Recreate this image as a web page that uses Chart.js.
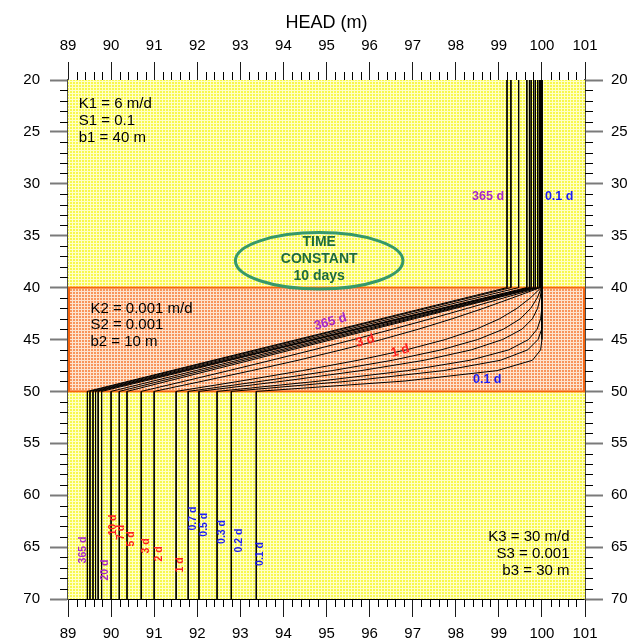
<!DOCTYPE html>
<html>
<head>
<meta charset="utf-8">
<script src="https://cdn.jsdelivr.net/npm/chart.js@4.4.1/dist/chart.umd.min.js"></script>
<style>
  html, body { margin: 0; padding: 0; background: #ffffff; }
  #wrap { position: relative; width: 630px; height: 641px; }
</style>
</head>
<body>
<div id="wrap"><canvas id="headChart" width="630" height="641"></canvas></div>
<script>
// Layer boundaries (depth, m): aquifer 1 / aquitard / aquifer 2
const layerDepths = [20, 40, 50, 70];

// Elapsed times for each head profile
const times = ['0.1 d', '0.2 d', '0.3 d', '0.5 d', '0.7 d', '1 d', '2 d', '3 d', '5 d',
               '7 d', '10 d', '20 d', '30 d', '50 d', '100 d', '200 d', '365 d'];

// Head in the upper aquifer (m)
const upperHeads = [100.0, 100.0, 100.0, 99.99, 99.99, 99.98, 99.96, 99.94, 99.90,
                    99.85, 99.81, 99.75, 99.71, 99.65, 99.46, 99.28, 99.19];

// Head in the lower (pumped) aquifer (m)
const lowerHeads = [93.37, 92.79, 92.46, 92.04, 91.79, 91.51, 91.00, 90.70, 90.37,
                    90.19, 90.00, 89.78, 89.70, 89.64, 89.58, 89.51, 89.45];

// Interior depths of the aquitard where heads are listed
const aquitardDepths = [41, 42, 43, 44, 45, 46, 47, 48, 49];

// Heads inside the aquitard, one row per time (empty row = linear profile)
const aquitardHeads = [
  [100.0, 100.0, 100.0, 100.0, 100.0, 99.97, 99.78, 98.96, 96.82],
  [100.0, 100.0, 100.0, 99.98, 99.91, 99.67, 99.04, 97.71, 95.55],
  [100.0, 99.99, 99.97, 99.89, 99.69, 99.23, 98.33, 96.88, 94.85],
  [99.96, 99.90, 99.78, 99.54, 99.09, 98.36, 97.27, 95.80, 94.02],
  [99.89, 99.74, 99.50, 99.11, 98.51, 97.66, 96.53, 95.13, 93.52],
  [99.73, 99.42, 99.02, 98.48, 97.76, 96.85, 95.73, 94.44, 93.01],
  [99.31, 98.64, 97.92, 97.14, 96.28, 95.34, 94.34, 93.26, 92.14],
  [99.11, 98.27, 97.42, 96.54, 95.63, 94.69, 93.72, 92.73, 91.72],
  [], [], [], [], [], [], [], [], []
];

// Axis ranges and tick labels
const headTicks = [89, 90, 91, 92, 93, 94, 95, 96, 97, 98, 99, 100, 101];
const depthTicks = [20, 25, 30, 35, 40, 45, 50, 55, 60, 65, 70];

const FONT = "'Liberation Sans', Arial, Helvetica, sans-serif";
const PURPLE = '#a626c8';
const RED = '#ff1f1f';
const BLUE = '#1c1cf5';

function timeColor(label) {
  const v = parseFloat(label);
  if (v < 1) return BLUE;
  if (v <= 10) return RED;
  return PURPLE;
}

// Text placed on the plot, anchored in head/depth units
const notes = [
  { lines: ['K1 = 6 m/d', 'S1 = 0.1', 'b1 = 40 m'], x: 89.25, y: 22.31, align: 'left' },
  { lines: ['K2 = 0.001 m/d', 'S2 = 0.001', 'b2 = 10 m'], x: 89.52, y: 42.0, align: 'left' },
  { lines: ['K3 = 30 m/d', 'S3 = 0.001', 'b3 = 30 m'], x: 100.64, y: 64.06, align: 'right' }
];

// Time labels: [text, head, depth, rotation in degrees, font size]
const timeLabels = [
  ['365 d', 98.75, 31.27, 0, 12.5],
  ['0.1 d', 100.40, 31.27, 0, 12.5],
  ['365 d', 95.09, 43.31, -16, 13],
  ['3 d', 95.90, 45.14, -16, 13],
  ['1 d', 96.71, 46.11, -16, 13],
  ['0.1 d', 98.73, 48.90, 0, 12.5],
  ['365 d', 89.35, 65.28, -90, 10.5],
  ['20 d', 89.87, 67.21, -90, 10.5],
  ['10 d', 90.05, 62.87, -90, 10.5],
  ['7 d', 90.24, 63.59, -90, 10.5],
  ['5 d', 90.47, 64.22, -90, 10.5],
  ['3 d', 90.82, 64.89, -90, 10.5],
  ['2 d', 91.12, 65.66, -90, 10.5],
  ['1 d', 91.61, 66.72, -90, 10.5],
  ['0.7 d', 91.90, 62.26, -90, 10.5],
  ['0.5 d', 92.15, 62.84, -90, 10.5],
  ['0.3 d', 92.57, 63.54, -90, 10.5],
  ['0.2 d', 92.96, 64.36, -90, 10.5],
  ['0.1 d', 93.47, 65.66, -90, 10.5]
];

// Build one polyline per time: upper aquifer, aquitard profile, lower aquifer
const datasets = times.map((t, i) => {
  const pts = [
    { x: upperHeads[i], y: layerDepths[0] },
    { x: upperHeads[i], y: layerDepths[1] }
  ];
  aquitardHeads[i].forEach((h, k) => pts.push({ x: h, y: aquitardDepths[k] }));
  pts.push({ x: lowerHeads[i], y: layerDepths[2] });
  pts.push({ x: lowerHeads[i], y: layerDepths[3] });
  return {
    label: t,
    data: pts,
    showLine: true,
    borderColor: '#000000',
    borderWidth: 1,
    pointRadius: 0,
    tension: 0
  };
});

function makePattern(light, dark) {
  const c = document.createElement('canvas');
  c.width = 3; c.height = 3;
  const g = c.getContext('2d');
  g.fillStyle = light; g.fillRect(0, 0, 3, 3);
  g.fillStyle = dark; g.fillRect(1, 1, 2, 2);
  return g.createPattern(c, 'repeat');
}

// Layer fills drawn under the lines
const layerFill = {
  id: 'layerFill',
  beforeDatasetsDraw(chart) {
    const { ctx, chartArea: a, scales: { y } } = chart;
    const yellow = makePattern('#ffffc8', '#f8f84c');
    const orange = makePattern('#fde3cf', '#f8955a');
    const y40 = y.getPixelForValue(layerDepths[1]);
    const y50 = y.getPixelForValue(layerDepths[2]);
    ctx.save();
    ctx.fillStyle = yellow;
    ctx.fillRect(a.left, a.top, a.right - a.left, a.bottom - a.top);
    ctx.fillStyle = orange;
    ctx.fillRect(a.left, y40, a.right - a.left, y50 - y40);
    ctx.strokeStyle = '#f7650f';
    ctx.lineWidth = 2;
    ctx.strokeRect(a.left + 1, y40, a.right - a.left - 2, y50 - y40);
    ctx.restore();
  }
};

// Minor ticks outside the frame on all four sides
const minorTicks = {
  id: 'minorTicks',
  afterDraw(chart) {
    const { ctx, chartArea: a, scales: { x, y } } = chart;
    ctx.save();
    ctx.strokeStyle = '#000';
    ctx.lineWidth = 1;
    ctx.beginPath();
    for (let i = 0; i <= 60; i++) {
      if (i % 5 === 0) continue;
      const px = Math.round(x.getPixelForValue(89 + i * 0.2)) + 0.5;
      ctx.moveTo(px, a.top); ctx.lineTo(px, a.top - 8);
      ctx.moveTo(px, a.bottom); ctx.lineTo(px, a.bottom + 8);
    }
    for (let d = 20; d <= 70; d++) {
      if (d % 5 === 0) continue;
      const py = Math.round(y.getPixelForValue(d)) + 0.5;
      ctx.moveTo(a.left, py); ctx.lineTo(a.left - 8, py);
      ctx.moveTo(a.right, py); ctx.lineTo(a.right + 8, py);
    }
    ctx.stroke();
    ctx.restore();
  }
};

// Parameter notes, time labels and the time-constant callout
const annotations = {
  id: 'annotations',
  afterDatasetsDraw(chart) {
    const { ctx, scales: { x, y } } = chart;
    ctx.save();

    ctx.fillStyle = '#000';
    ctx.font = '15px ' + FONT;
    ctx.textBaseline = 'middle';
    notes.forEach(n => {
      ctx.textAlign = n.align;
      const px = x.getPixelForValue(n.x);
      const py = y.getPixelForValue(n.y);
      n.lines.forEach((line, k) => ctx.fillText(line, px, py + k * 16.8));
    });

    ctx.textAlign = 'center';
    timeLabels.forEach(([text, hx, dy, rot, size]) => {
      ctx.save();
      ctx.translate(x.getPixelForValue(hx), y.getPixelForValue(dy));
      ctx.rotate(rot * Math.PI / 180);
      ctx.font = 'bold ' + size + 'px ' + FONT;
      ctx.fillStyle = timeColor(text);
      ctx.fillText(text, 0, 0);
      ctx.restore();
    });

    // Time-constant callout
    const cx = x.getPixelForValue(94.83);
    const cy = y.getPixelForValue(37.42);
    const rx = Math.abs(x.getPixelForValue(94.83 + 1.944) - cx);
    const ry = Math.abs(y.getPixelForValue(37.42 + 2.72) - cy);
    ctx.beginPath();
    ctx.ellipse(cx, cy, rx, ry, 0, 0, Math.PI * 2);
    ctx.strokeStyle = '#35996a';
    ctx.lineWidth = 3;
    ctx.stroke();
    ctx.fillStyle = '#1d6c3e';
    ctx.font = 'bold 14px ' + FONT;
    ['TIME', 'CONSTANT', '10 days'].forEach((t, k) => {
      ctx.fillText(t, cx, y.getPixelForValue(35.58) + k * 17.3);
    });

    ctx.restore();
  }
};

function headAxis(position, size, withTitle) {
  return {
    type: 'linear',
    position: position,
    min: headTicks[0],
    max: headTicks[headTicks.length - 1],
    afterFit: s => { s.height = size; },
    afterBuildTicks: s => { s.ticks = headTicks.map(v => ({ value: v })); },
    ticks: {
      font: { family: FONT, size: 15 },
      color: '#000',
      padding: position === 'top' ? 7 : 8,
      maxRotation: 0,
      autoSkip: false
    },
    grid: { drawOnChartArea: false, drawTicks: true, tickLength: 18, tickColor: '#1a1a1a', tickWidth: 1 },
    border: { display: true, color: '#000', width: 1 },
    title: {
      display: withTitle,
      text: 'HEAD (m)',
      font: { family: FONT, size: 18 },
      color: '#000',
      padding: { top: 12, bottom: 0 }
    }
  };
}

function depthAxis(position, size) {
  return {
    type: 'linear',
    position: position,
    reverse: true,
    min: depthTicks[0],
    max: depthTicks[depthTicks.length - 1],
    afterFit: s => { s.width = size; },
    afterBuildTicks: s => { s.ticks = depthTicks.map(v => ({ value: v })); },
    ticks: {
      font: { family: FONT, size: 15 },
      color: '#000',
      padding: position === 'left' ? 10 : 8,
      autoSkip: false
    },
    grid: { drawOnChartArea: false, drawTicks: true, tickLength: 18, tickColor: '#7a7a7a', tickWidth: 2 },
    border: { display: true, color: '#4a4a4a', width: 2 }
  };
}

new Chart(document.getElementById('headChart'), {
  type: 'scatter',
  data: { datasets: datasets },
  options: {
    responsive: false,
    animation: false,
    layout: { padding: 0 },
    plugins: { legend: { display: false }, tooltip: { enabled: false } },
    scales: {
      x: headAxis('bottom', 42, false),
      x2: headAxis('top', 80, true),
      y: depthAxis('left', 68),
      y2: depthAxis('right', 45)
    }
  },
  plugins: [layerFill, minorTicks, annotations]
});
</script>
</body>
</html>
